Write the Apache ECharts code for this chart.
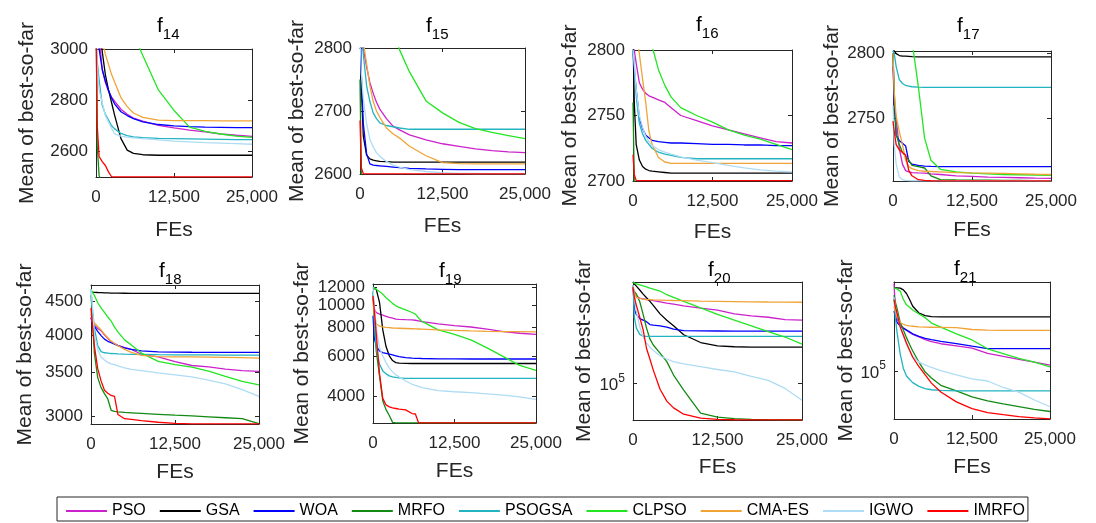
<!DOCTYPE html>
<html><head><meta charset="utf-8">
<script src="https://cdn.jsdelivr.net/npm/echarts@6/dist/echarts.min.js"></script>
<style>html,body{margin:0;padding:0;background:#fff}#c{width:1096px;height:523px}</style>
</head><body><div id="c"></div>
<script>
// ---------------- DATA ----------------
const ALGOS = ['PSO','GSA','WOA','MRFO','PSOGSA','CLPSO','CMA-ES','IGWO','IMRFO'];
const X_TICKS = [0, 12500, 25000];
const FES_A = [0,200,500,1000,1500,2000,2500,3000,4000,5000,6000,7500,10000,12500,15000,17500,20000,22500,25000];
const FES_B = [0,200,500,1000,1500,2000,2500,3000,3500,4000,5000,6000,7500,10000,12500,15000,17500,20000,22500,25000];
const FES_C = [0,200,500,1000,1500,2000,2500,3000,3500,4000,5000,6000,6500,7000,7500,10000,12500,15000,17500,20000,22500,25000];

const F14 = {
  'PSO':    [3200,3150,3050,2920,2870,2835,2812,2795,2765,2745,2730,2718,2702,2692,2683,2676,2668,2663,2659],
  'GSA':    [3400,3300,3100,2990,2900,2840,2790,2740,2650,2605,2592,2587,2585,2585,2585,2585,2585,2585,2585],
  'WOA':    [3300,3150,3000,2920,2875,2840,2808,2785,2755,2740,2728,2715,2705,2700,2697,2695,2694,2693,2693],
  'MRFO':   [3200,2620,2505,2480,2480,2480,2480,2480,2480,2480,2480,2480,2480,2480,2480,2480,2480,2480,2480],
  'PSOGSA': [3050,2950,2880,2780,2745,2722,2700,2688,2670,2662,2657,2654,2651,2650,2649,2648,2647,2646,2646],
  'CLPSO':  [3700,3650,3600,3520,3450,3400,3350,3300,3220,3150,3060,2975,2840,2760,2695,2678,2668,2660,2655],
  'CMA-ES': [3400,3300,3150,3030,2980,2940,2900,2870,2810,2775,2750,2733,2722,2720,2720,2720,2719,2719,2719],
  'IGWO':   [3050,2930,2840,2790,2740,2715,2690,2668,2660,2656,2653,2650,2645,2640,2637,2634,2632,2630,2628],
  'IMRFO':  [3100,2700,2580,2560,2545,2520,2501,2500.5,2500.5,2500.5,2500.5,2500.5,2500.5,2500.5,2500.5,2500.5,2500.5,2500.5,2500.5]
};
const F15 = {
  'PSO':    [2900,2850,2800,2770,2745,2728,2714,2703,2688,2676,2670,2662,2654,2648,2644,2640,2637,2635,2634],
  'GSA':    [2850,2740,2660,2630,2624,2622,2621,2620,2619.5,2619,2619,2619,2619,2619,2619,2619,2619,2619,2619],
  'WOA':    [2850,2760,2680,2632,2616,2614,2613.5,2613,2612,2611,2610,2609,2608,2607.5,2607,2607,2607,2607,2607],
  'MRFO':   [2750,2600,2590,2590,2590,2590,2590,2590,2590,2590,2590,2590,2590,2590,2590,2590,2590,2590,2590],
  'PSOGSA': [2850,2820,2790,2740,2715,2697,2688,2681,2677,2675,2673,2671,2671,2671,2671,2671,2671,2671,2671],
  'CLPSO':  [3300,3250,3200,3150,3100,3060,3020,2985,2910,2830,2797,2762,2716,2697,2682,2672,2666,2661,2656],
  'CMA-ES': [2950,2870,2810,2775,2740,2715,2700,2690,2673,2664,2657,2644,2629,2618,2616.5,2616,2616,2616,2616],
  'IGWO':   [2820,2760,2720,2680,2655,2643,2634,2628,2620,2614,2611,2607,2604,2602,2601,2600.8,2600.6,2600.5,2600.5],
  'IMRFO':  [2685,2610,2600.4,2600.3,2600.3,2600.3,2600.3,2600.3,2600.3,2600.3,2600.3,2600.3,2600.3,2600.3,2600.3,2600.3,2600.3,2600.3,2600.3]
};
const F16 = {
  'PSO':    [2810,2800,2790,2775,2770,2767,2765,2764,2762,2760,2756,2750,2746,2742,2739,2736,2733,2730,2729],
  'GSA':    [2810,2760,2728,2716,2711,2709,2708,2707.5,2707,2706.5,2706,2706,2706,2706,2706,2706,2706,2706,2706],
  'WOA':    [2800,2785,2770,2748,2740,2735,2733,2731,2730,2729.5,2729,2729,2728.5,2728,2728,2727.5,2727.5,2727,2727],
  'MRFO':   [2760,2699,2695,2695,2695,2695,2695,2695,2695,2695,2695,2695,2695,2695,2695,2695,2695,2695,2695],
  'PSOGSA': [2800,2790,2765,2744,2736,2731,2728,2725,2722,2720.5,2719.5,2718,2717,2717,2717,2717,2717,2717,2717],
  'CLPSO':  [2950,2940,2920,2890,2860,2830,2815,2803,2785,2773,2764,2756,2750,2745,2739,2735,2732,2728,2724],
  'CMA-ES': [2850,2830,2815,2797,2778,2760,2738,2728,2718,2714.5,2713.5,2713.5,2713.5,2713.5,2713.5,2713.5,2713.5,2713.5,2713.5],
  'IGWO':   [2800,2790,2770,2750,2741,2734,2730,2727,2724,2722,2720.5,2718.5,2716,2714,2712,2710,2708.5,2707.5,2707],
  'IMRFO':  [2720,2705,2700.3,2700.3,2700.3,2700.3,2700.3,2700.3,2700.3,2700.3,2700.3,2700.3,2700.3,2700.3,2700.3,2700.3,2700.3,2700.3,2700.3]
};
const F17 = {
  'PSO':    [2790,2760,2750,2727,2715,2710,2709,2708.5,2708.2,2708,2707.5,2707,2706,2705.5,2705,2704.8,2704.5,2704.2,2704],
  'GSA':    [2805,2802,2800,2798.5,2798,2798,2797.8,2797.6,2797.5,2797.5,2797.5,2797.5,2797.5,2797.5,2797.5,2797.5,2797.5,2797.5,2797.5],
  'WOA':    [2800,2760,2737,2733,2731,2729,2717,2715,2714,2713.5,2713.2,2713,2713,2713,2713,2713,2713,2713,2713],
  'MRFO':   [2800,2770,2738,2730,2724,2721,2718,2714,2713,2712,2706,2703,2702.8,2702.7,2702.6,2702.5,2702.4,2702.3,2702.2],
  'PSOGSA': [2802,2800,2790,2780,2777,2775.5,2775,2774.5,2774.2,2774,2774,2774,2774,2774,2774,2774,2774,2774,2774],
  'CLPSO':  [2900,2890,2880,2860,2850,2840,2825,2810,2775,2735,2718,2711,2709,2708,2707.5,2707,2706.8,2706.6,2706.4],
  'CMA-ES': [2800,2770,2752,2740,2730,2718,2713,2711.5,2710,2709.5,2709.3,2709,2708.5,2708.2,2708,2707.8,2707.5,2707.2,2707],
  'IGWO':   [2760,2730,2715,2705,2703,2702.5,2702.3,2702.2,2702.2,2702.2,2702.2,2702.2,2702.2,2702.2,2702.2,2702.2,2702.2,2702.2,2702.2],
  'IMRFO':  [2748,2740,2730,2726,2724,2722,2710,2706,2703,2702.5,2702.2,2702.1,2702.1,2702.1,2702.1,2702.1,2702.1,2702.1,2702.1]
};
const F18 = {
  'PSO':    [4250,4180,4140,4090,4060,4000,3950,3905,3880,3855,3825,3800,3735,3700,3640,3590,3573,3545,3525,3515],
  'GSA':    [4650,4650,4648,4645,4643,4640,4638,4636,4635,4634,4633,4632,4631,4630,4630,4630,4630,4630,4630,4630],
  'WOA':    [4250,4170,4120,4050,3990,3940,3910,3890,3870,3850,3820,3800,3780,3768,3764,3762,3761,3760,3760,3760],
  'MRFO':   [4600,4300,3750,3440,3320,3250,3190,3065,3052,3048,3042,3038,3032,3022,3012,3005,2995,2985,2975,2925],
  'PSOGSA': [4700,4400,4100,3850,3770,3755,3750,3745,3743,3740,3737,3735,3733,3730,3728,3727,3726,3725,3725,3725],
  'CLPSO':  [4700,4650,4600,4480,4400,4330,4260,4200,4110,4043,3930,3860,3751,3643,3600,3570,3520,3455,3395,3353],
  'CMA-ES': [4300,4200,4170,4120,4070,4010,3960,3910,3880,3850,3800,3760,3720,3705,3702,3700,3698,3695,3690,3685],
  'IGWO':   [4700,4450,4000,3800,3700,3660,3630,3610,3600,3585,3560,3540,3525,3497,3473,3448,3410,3365,3296,3218],
  'IMRFO':  [4400,4150,3850,3550,3400,3290,3255,3230,3220,3020,2975,2968,2955,2938,2926,2922,2922,2922,2922,2922]
};
const F19 = {
  'PSO':    [10800,9600,9300,9150,9050,8950,8850,8780,8700,8670,8650,8640,8600,8550,8480,8290,8140,8030,7860,7670,7540,7460],
  'GSA':    [11900,11900,11750,10300,7800,6590,6000,5720,5600,5570,5555,5550,5550,5550,5550,5550,5550,5550,5550,5550,5550,5550],
  'WOA':    [9000,7200,6600,6300,6200,6150,6100,6050,6000,5950,5890,5860,5850,5845,5840,5820,5815,5810,5810,5810,5810,5810],
  'MRFO':   [11500,9000,6300,4900,3800,3480,3280,3060,3041,3041,3041,3041,3041,3041,3041,3041,3041,3041,3041,3041,3041,3041],
  'PSOGSA': [11500,8500,6500,5500,5150,5000,4900,4850,4820,4800,4780,4775,4772,4771,4771,4771,4771,4771,4771,4771,4771,4771],
  'CLPSO':  [12000,11900,11750,11500,11200,10800,10500,10200,9950,9800,9550,9300,9150,8800,8500,7800,7450,7050,6500,5950,5450,5180],
  'CMA-ES': [10500,9000,8300,8100,8050,8000,7980,7950,7940,7930,7910,7890,7880,7870,7860,7800,7760,7720,7690,7670,7660,7650],
  'IGWO':   [12000,10000,8000,6500,6000,5600,5300,5100,4950,4850,4650,4500,4450,4400,4350,4220,4170,4130,4080,4030,3960,3860],
  'IMRFO':  [11000,9500,7500,5000,3900,3650,3580,3540,3520,3500,3470,3345,3330,3041,3041,3041,3041,3041,3041,3041,3041,3041]
};
const F20 = {
  'PSO':    [380000,350000,335000,326000,323000,320000,318000,315000,310000,304000,300000,293000,284000,276000,262000,255000,250000,242000,240000],
  'GSA':    [405000,395000,385000,365000,345000,328000,312000,295000,262000,240000,222000,196000,176000,168000,166000,165000,165000,165000,165000],
  'WOA':    [390000,280000,260000,245000,240000,235000,226000,224000,222000,218000,212000,207500,207000,206500,206000,206000,206000,206000,206000],
  'MRFO':   [370000,358000,345000,310000,260000,215000,185000,170000,152000,135000,112000,91000,66000,62500,61200,60600,60300,60150,60100],
  'PSOGSA': [390000,250000,215000,197000,192000,191500,191500,191500,191500,191500,191500,191500,191500,191500,191500,191500,191500,191500,191500],
  'CLPSO':  [405000,402000,398000,392000,386000,381000,375000,370000,360000,342000,330000,312000,285000,260000,240000,222000,205000,190000,172000],
  'CMA-ES': [390000,350000,330000,325000,322000,320000,319000,318000,317000,316000,315500,315000,313000,312000,311000,310000,309000,308500,308000],
  'IGWO':   [390000,330000,270000,220000,190000,175000,165000,158000,146000,140000,135000,131000,126000,121000,117000,110000,104000,93000,79000],
  'IMRFO':  [380000,330000,295000,250000,210000,162000,140000,120000,92000,78000,71000,65000,61500,60500,60200,60100,60100,60100,60100]
};
const F21 = {
  'PSO':    [255000,200000,175000,164000,159000,155000,151000,148000,144000,140000,137000,134000,131000,128000,121000,117000,113500,110000,106600],
  'GSA':    [243000,243000,243000,242500,238000,229000,215000,200000,186000,181000,179000,178600,178400,178400,178400,178400,178400,178400,178400],
  'WOA':    [190000,180000,168000,162000,158000,155000,152000,149000,145000,142000,140000,137500,134000,130500,127300,127300,127300,127300,127300],
  'MRFO':   [225000,210000,195000,168000,155000,143000,133000,124000,110000,99000,93000,86000,81000,76000,72800,70500,68500,66500,65000],
  'PSOGSA': [220000,180000,150000,120000,103000,95000,91500,88500,85000,83000,82000,81500,81000,81000,81000,81000,81000,81000,81000],
  'CLPSO':  [243000,241000,240000,235000,215000,203000,198000,192000,184000,177000,167000,160000,149000,139500,127000,120700,114700,110000,104700],
  'CMA-ES': [200000,190000,178000,168000,165000,163000,162000,161500,160500,160000,159800,159500,159000,156000,155000,154700,154700,154700,154700],
  'IGWO':   [220000,200000,185000,160000,145000,132000,125000,117000,110000,107000,104000,100500,96000,92000,90000,84000,80000,73500,68400],
  'IMRFO':  [215000,200000,185000,160000,147000,135000,125000,116000,105000,96000,88000,80000,72000,67000,64200,62800,61600,60700,60100]
};

const TITLES = ['14','15','16','17','18','19','20','21'];
const PANEL_DATA = [F14, F15, F16, F17, F18, F19, F20, F21];
const PANEL_FES  = [FES_A, FES_A, FES_A, FES_A, FES_B, FES_C, FES_A, FES_A];
const Y_TYPE  = ['value','value','value','value','log','log','log','log'];
const Y_MIN   = [2500, 2600, 2700, 2702, 2920, 3040, 60000, 60000];
const Y_MAX   = [3000, 2800, 2800, 2802, 4770, 12410, 408000, 259000];
const Y_TICKS = [[2600,2800,3000],[2600,2700,2800],[2700,2750,2800],[2750,2800],
                 [3000,3500,4000,4500],[4000,6000,8000,10000,12000],[100000],[100000]];

// ---------------- LAYOUT / STYLE ----------------
const COLORS = ['#cc22cc','#000000','#0000ff','#138a13','#22b4c0','#22e622','#f0a436','#aedcf4','#ff0000'];
const GRIDS = [
  {left:96,top:49,width:156,height:128},{left:360,top:48,width:165,height:126},
  {left:633,top:50,width:159,height:131},{left:893,top:51,width:158,height:130},
  {left:91,top:285,width:168,height:139},{left:373,top:284,width:163,height:139},
  {left:633,top:282,width:169,height:138},{left:894,top:282,width:156,height:137}
];
const TITLE_POS = [[157,16],[426,16],[696,15],[957,16],[159,261],[439,261],[708,260],[954,259]];
const NAME_GAP = [58,52,52,50,55,60,38,32];
const X_NAME_GAP = [43,42,41,39,38,38,37,38];
const FONT = 'Liberation Sans, Arial, sans-serif';
const AX = '#262626';

const fmtX = v => String(v).replace(/\B(?=(\d{3})+(?!\d))/g, ',');

const grid = [], xAxis = [], yAxis = [], series = [], title = [];
GRIDS.forEach((g, i) => {
  grid.push(Object.assign({containLabel:false}, g));
  title.push({
    text: '{f|f}{s|' + TITLES[i] + '}', left: TITLE_POS[i][0], top: TITLE_POS[i][1], padding: 0,
    textStyle: { fontWeight:'normal', rich: {
      f: {fontSize: 21, fontWeight:'normal', fontFamily: FONT, color: '#000', lineHeight: 26, verticalAlign: 'top'},
      s: {fontSize: 15, fontWeight:'normal', fontFamily: FONT, color: '#000', lineHeight: 26, verticalAlign: 'bottom'}
    }}
  });
  const axLine = {show:true, onZero:false, lineStyle:{color:AX, width:1}};
  const xb = {type:'value', gridIndex:i, min:0, max:25000, interval:12500, axisLine:axLine,
    axisTick:{show:true, inside:true, length:4, lineStyle:{color:AX}}, splitLine:{show:false}};
  xAxis.push(Object.assign({}, xb, {position:'bottom',
    axisLabel:{show:true, margin:12, fontSize:17, color:AX, fontFamily:FONT, formatter: fmtX},
    name:'FEs', nameLocation:'middle', nameGap:X_NAME_GAP[i], nameTextStyle:{fontSize:21, color:AX, fontFamily:FONT}}));
  xAxis.push(Object.assign({}, xb, {position:'top', axisLabel:{show:false}}));
  const isLog = Y_TYPE[i] === 'log';
  const yb = {type:Y_TYPE[i], gridIndex:i, min:Y_MIN[i], max:Y_MAX[i], axisLine:axLine,
    axisTick:{show:true, inside:true, length:4, customValues:Y_TICKS[i], lineStyle:{color:AX}},
    splitLine:{show:false}, minorTick:{show:false}};
  if (isLog) yb.logBase = 10;
  const big = Y_TICKS[i][0] >= 100000;
  yAxis.push(Object.assign({}, yb, {position:'left',
    axisLabel:{show:true, customValues:Y_TICKS[i], margin:8, fontSize:17, color:AX, fontFamily:FONT,
      formatter: big ? (v => '{b|10}{s|5}') : (v => String(Math.round(v))),
      rich: big ? {b:{fontSize:17, color:AX, fontFamily:FONT, lineHeight:22, verticalAlign:'bottom'},
                   s:{fontSize:12, color:AX, fontFamily:FONT, lineHeight:22, verticalAlign:'top'}} : undefined},
    name:'Mean of best-so-far', nameLocation:'middle', nameGap:NAME_GAP[i],
    nameTextStyle:{fontSize:21, color:AX, fontFamily:FONT}}));
  yAxis.push(Object.assign({}, yb, {position:'right', axisLabel:{show:false}}));
  const fes = PANEL_FES[i], d = PANEL_DATA[i];
  ALGOS.forEach((a, k) => {
    series.push({type:'line', name:a, xAxisIndex:2*i, yAxisIndex:2*i,
      data: fes.map((x, j) => [x, d[a][j]]),
      showSymbol:false, symbol:'none', clip:true, silent:true,
      lineStyle:{width:1.3, color:COLORS[k]}, itemStyle:{color:COLORS[k]}});
  });
});

const chart = echarts.init(document.getElementById('c'), null, {renderer:'canvas'});
chart.setOption({
  backgroundColor:'#fff', animation:false, color: COLORS,
  title, grid, xAxis, yAxis, series,
  legend: {data: ALGOS, left:57, top:497, padding:[6,3,2,9], itemWidth:41, itemHeight:2, itemGap:14,
    icon:'rect', borderColor:AX, borderWidth:1,
    textStyle:{fontSize:16, color:'#000', fontFamily:FONT}}
});
</script></body></html>
